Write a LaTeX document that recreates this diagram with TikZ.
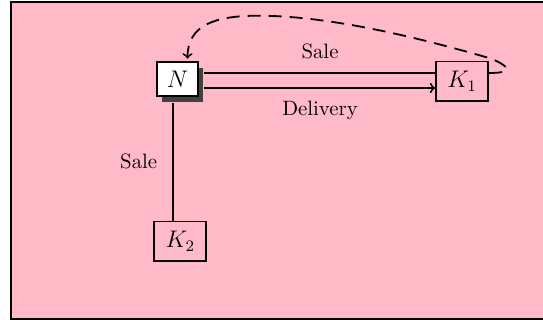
\documentclass[tikz,border=0pt]{standalone}
\usetikzlibrary{shadows}
\definecolor{bgpink}{RGB}{255,185,199}
\definecolor{shadowgray}{RGB}{66,66,66}
\tikzset{
  frame/.style={draw=black,line width=1pt,fill=bgpink},
  conn/.style={line width=0.9pt},
  boxN/.style={draw,line width=1.2pt,fill=white,minimum width=20.5pt,minimum height=17.1pt,inner sep=0pt,
    font=\fontsize{12}{14}\selectfont,
    drop shadow={shadow xshift=2.75pt,shadow yshift=-3pt,fill=shadowgray,opacity=1}},
  boxK/.style={draw,line width=0.9pt,minimum width=26pt,minimum height=19.7pt,inner sep=0pt,
    font=\fontsize{12}{14}\selectfont},
  lbl/.style={anchor=base,inner sep=0pt,font=\fontsize{10.4}{12}\selectfont},
  dashcurve/.style={line width=0.9pt,dash pattern=on 6.5pt off 4pt}
}
\begin{document}
\begin{tikzpicture}[x=0.5pt,y=-0.5pt]
\useasboundingbox (0,0) rectangle (543,320);
\draw[frame] (11,2) rectangle (546,319);
\node[boxN] (N) at (177.5,79) {$N$};
\node[boxK] (K1) at (462.2,81.2) {$K_1$};
\node[boxK] (K2) at (180.3,241.2) {$K_2$};
\coordinate (s1) at ([xshift=2.5pt,yshift=3pt]N.east);
\coordinate (s2) at ([xshift=2.5pt,yshift=-4.5pt]N.east);
\coordinate (v1) at ([xshift=-2.25pt,yshift=-3pt]N.south);
\draw[conn] (s1) -- (s1 -| K1.west);
\draw[conn,->] (s2) -- (s2 -| K1.west);
\draw[conn] (v1) -- (v1 |- K2.north);
\draw[dashcurve,->] (s1 -| K1.east) .. controls (518,73) and (506,64.5) .. (490,58.3)
  .. controls (420,38) and (330,15.7) .. (258,15.7)
  .. controls (215,15.7) and (187.5,25) .. ([xshift=5pt,yshift=1pt]N.north);
\node[lbl] (saleTop) at (320,58.3) {Sale};
\node[lbl] (delivery) at (320,116) {Delivery};
\node[lbl] (saleLeft) at (138.7,168.3) {Sale};
\end{tikzpicture}
\end{document}
